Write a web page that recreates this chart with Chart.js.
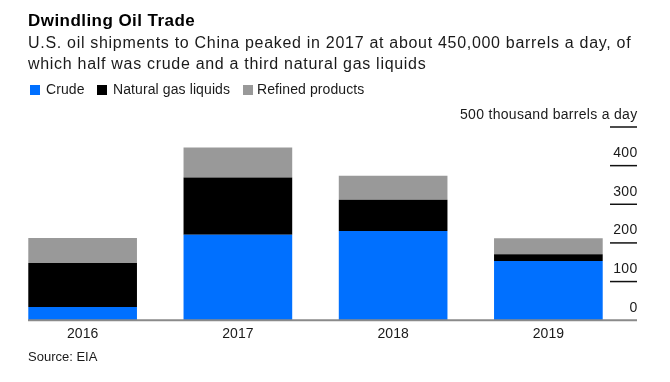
<!DOCTYPE html>
<html>
<head>
<meta charset="utf-8">
<script src="https://cdn.jsdelivr.net/npm/chart.js@4.4.1/dist/chart.umd.min.js"></script>
<style>
  body { margin: 0; background: #fff; font-family: "Liberation Sans", Arial, sans-serif; }
  #wrap { position: relative; width: 670px; height: 382px; overflow: hidden; }
  canvas { position: absolute; left: 0; top: 0; }
  .txt { position: absolute; white-space: nowrap; color: #1a1a1a; }
  #title { left: 28px; top: 12px; font-size: 17px; line-height: 17px; font-weight: bold; color: #000; letter-spacing: 0.45px; }
  #sub { left: 28px; top: 32px; font-size: 16px; line-height: 21px; letter-spacing: 0.7px; }
  .leg { position: absolute; top: 81px; font-size: 14px; line-height: 16px; white-space: nowrap; color: #1a1a1a; letter-spacing: 0.1px; }
  .box { position: absolute; top: 85px; width: 10px; height: 10px; }
  #source { left: 28px; top: 349px; font-size: 13px; line-height: 15px; }
</style>
</head>
<body>
<div id="wrap">
  <canvas id="oil_chart" width="670" height="382"></canvas>
  <div class="txt" id="title">Dwindling Oil Trade</div>
  <div class="txt" id="sub">U.S. oil shipments to China peaked in 2017 at about 450,000 barrels a day, of<br>which half was crude and a third natural gas liquids</div>
  <div id="legend"></div>
  <div class="txt" id="source">Source: EIA</div>
</div>
<script>
// thousand barrels a day
var years = ["2016", "2017", "2018", "2019"];
var crude = [34, 221, 231, 153];
var ngl = [114, 148, 81, 18];
var refined = [65, 78, 62, 41];

var tickValues = [0, 100, 200, 300, 400, 500];
var tickLabels = ["0", "100", "200", "300", "400", "500 thousand barrels a day"];

var seriesNames = ["Crude", "Natural gas liquids", "Refined products"];
var seriesColors = ["#0070ff", "#000000", "#999999"];

// legend (box x, text x)
var legendX = [[30, 46], [97, 113], [243, 257]];
var legendHtml = "";
seriesNames.forEach(function(n, i) {
  legendHtml += '<div class="box" style="left:' + legendX[i][0] + 'px;background:' + seriesColors[i] + '"></div>';
  legendHtml += '<div class="leg" style="left:' + legendX[i][1] + 'px">' + n + '</div>';
});
document.getElementById("legend").innerHTML = legendHtml;

// right side ticks: short rule with the label sitting on top of it
var rightAxis = {
  id: "rightAxis",
  afterDraw: function(chart) {
    var ctx = chart.ctx;
    var y = chart.scales.y;
    ctx.save();
    // baseline
    ctx.strokeStyle = "#8a8a8a";
    ctx.lineWidth = 2;
    ctx.beginPath();
    ctx.moveTo(28, y.getPixelForValue(0));
    ctx.lineTo(637, y.getPixelForValue(0));
    ctx.stroke();

    ctx.font = "14px 'Liberation Sans', Arial, sans-serif";
    ctx.letterSpacing = "0.3px";
    ctx.fillStyle = "#1a1a1a";
    ctx.textAlign = "right";
    ctx.textBaseline = "alphabetic";
    tickValues.forEach(function(v, i) {
      var py = y.getPixelForValue(v);
      if (v > 0) {
        ctx.strokeStyle = "#111";
        ctx.lineWidth = 1.5;
        ctx.beginPath();
        ctx.moveTo(610, py);
        ctx.lineTo(637, py);
        ctx.stroke();
      }
      ctx.fillText(tickLabels[i], 637.5, py - 8.5);
    });
    ctx.restore();
  }
};

var barData = {
  labels: years,
  datasets: [
    { label: seriesNames[0], backgroundColor: seriesColors[0], data: crude },
    { label: seriesNames[1], backgroundColor: seriesColors[1], data: ngl },
    { label: seriesNames[2], backgroundColor: seriesColors[2], data: refined }
  ]
};

var barOptions = {
  responsive: false,
  animation: false,
  layout: { padding: { left: 5, right: 44, top: 127, bottom: 33 } },
  datasets: { bar: { categoryPercentage: 1, barPercentage: 0.70, borderWidth: 0 } },
  plugins: { legend: { display: false }, tooltip: { enabled: false } },
  scales: {
    x: {
      stacked: true,
      grid: { display: false, drawTicks: false },
      border: { display: false },
      ticks: { padding: 6, color: "#1a1a1a", font: { family: "'Liberation Sans', Arial, sans-serif", size: 14 } }
    },
    y: {
      stacked: true,
      display: false,
      min: 0,
      max: 500
    }
  }
};

new Chart(document.getElementById("oil_chart"), { type: "bar", data: barData, options: barOptions, plugins: [rightAxis] });
</script>
</body>
</html>
